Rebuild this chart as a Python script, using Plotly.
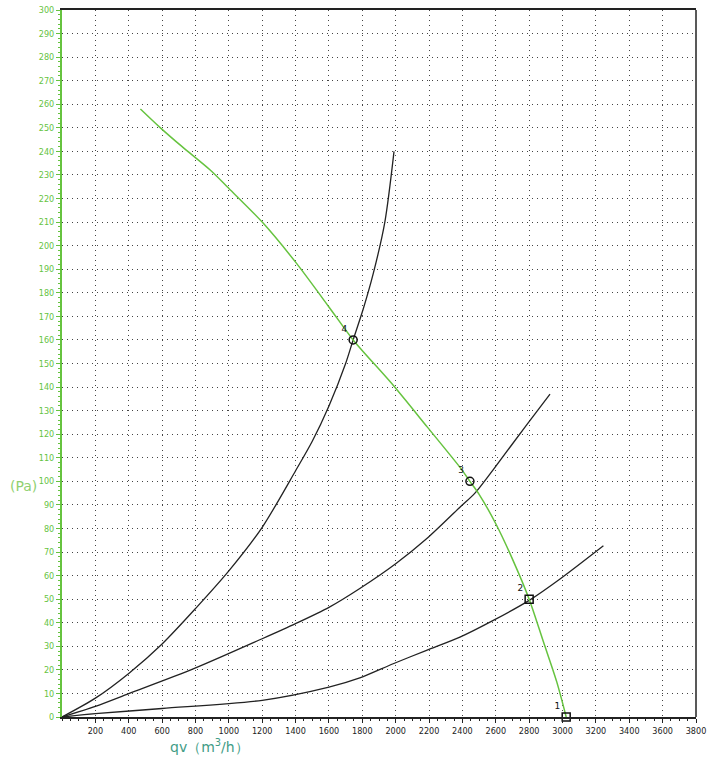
import plotly.graph_objects as go

# Fan curve (green)
qv_fan = [470, 590, 720, 890, 990, 1200, 1400, 1600, 1745, 1970, 2190, 2390, 2445, 2500, 2600, 2700, 2800, 2885, 2965, 3022]
p_fan = [258, 250, 242, 232, 225, 210, 193, 174, 160, 142, 123, 105.5, 100, 94.5, 82, 67, 50, 32, 15, 0]

# System curves (black)
qv_a = [0, 200, 400, 600, 800, 1000, 1200, 1400, 1500, 1600, 1700, 1745, 1805, 1865, 1935, 1990]
p_a = [0, 8, 18.5, 31, 46, 62, 80.5, 104.5, 117, 132, 150, 160, 173, 188, 210, 240]

qv_b = [0, 200, 400, 790, 1200, 1400, 1600, 1785, 2000, 2185, 2385, 2475, 2585, 2785, 2925]
p_b = [0, 4.5, 9.9, 20.5, 33.2, 39.6, 46.5, 54.5, 65, 75.6, 89, 95, 105, 124, 137]

qv_c = [0, 200, 600, 1200, 1600, 1785, 1985, 2185, 2385, 2585, 2800, 2985, 3245]
p_c = [0, 1.4, 3.6, 7.1, 12.7, 16.6, 22.6, 28.3, 33.9, 41, 49.5, 58.6, 72.7]

# Operating points
pt_qv = [3022, 2800, 2445, 1745]
pt_p = [0, 50, 100, 160]
pt_labels = ["1", "2", "3", "4"]
pt_symbols = ["square-open", "square-open", "circle-open", "circle-open"]

x_ticks = list(range(200, 3801, 200))
y_ticks = list(range(0, 301, 10))

GREEN = "#66c33f"
TICKFONT = dict(family="Liberation Sans Narrow, DejaVu Sans Condensed, Arial", size=9)

fig = go.Figure()
for qx, py in [(qv_a, p_a), (qv_b, p_b), (qv_c, p_c)]:
    fig.add_trace(go.Scatter(x=qx, y=py, mode="lines",
                             line=dict(color="#222222", width=1.3, shape="spline", smoothing=0.8),
                             showlegend=False, hoverinfo="skip"))
fig.add_trace(go.Scatter(x=qv_fan, y=p_fan, mode="lines",
                         line=dict(color=GREEN, width=1.5, shape="spline", smoothing=0.8),
                         showlegend=False, hoverinfo="skip"))
fig.add_trace(go.Scatter(x=pt_qv, y=pt_p, mode="markers+text", text=pt_labels, textposition="top left",
                         textfont=dict(family="DejaVu Sans", size=9, color="#111111"),
                         marker=dict(symbol=pt_symbols, size=8, color="#111111", line=dict(width=1.5, color="#111111")),
                         showlegend=False, cliponaxis=False))

fig.update_layout(
    width=708, height=758, autosize=False,
    margin=dict(l=62, r=12, t=10, b=41, autoexpand=False),
    paper_bgcolor="white", plot_bgcolor="white",
    xaxis=dict(range=[0, 3800], tickvals=x_ticks, ticktext=[str(v) for v in x_ticks], automargin=False,
               showgrid=True, gridcolor="#444444", griddash="1px,4px", gridwidth=1,
               showline=True, linecolor="#222222", linewidth=1.5, mirror=True,
               ticks="outside", ticklen=4, tickcolor="#222222",
               minor=dict(dtick=50, tick0=0, ticks="outside", ticklen=2, tickcolor="#222222", showgrid=False),
               tickfont=dict(color="#222222", **TICKFONT), zeroline=False, fixedrange=True),
    yaxis=dict(range=[0, 300], tickvals=y_ticks, ticktext=[str(v) for v in y_ticks], automargin=False,
               showgrid=True, gridcolor="#444444", griddash="1px,4px", gridwidth=1,
               showline=True, linecolor=GREEN, linewidth=2,
               ticks="outside", ticklen=4, tickcolor=GREEN,
               minor=dict(dtick=2, tick0=0, ticks="outside", ticklen=2, tickcolor=GREEN, showgrid=False),
               tickfont=dict(color=GREEN, **TICKFONT), zeroline=False, fixedrange=True),
    shapes=[dict(type="line", xref="paper", yref="paper", x0=1, x1=1, y0=0, y1=1,
                 line=dict(color="#222222", width=1.5))],
    annotations=[
        dict(text="qv（m<sup>3</sup>/h）", xref="paper", yref="paper", x=0.233, y=-0.026,
             xanchor="center", yanchor="top", showarrow=False,
             font=dict(family="DejaVu Sans", size=14, color="#3f9c86")),
        dict(text="(Pa)", xref="paper", yref="y", x=-0.036, y=98, xanchor="right", yanchor="middle",
             showarrow=False, font=dict(family="DejaVu Sans", size=14, color="#8fd070")),
    ],
)

fig.write_html("out.html", config={"displayModeBar": False, "responsive": False},
               post_script="document.body.style.margin='0';document.body.style.overflow='hidden';")
